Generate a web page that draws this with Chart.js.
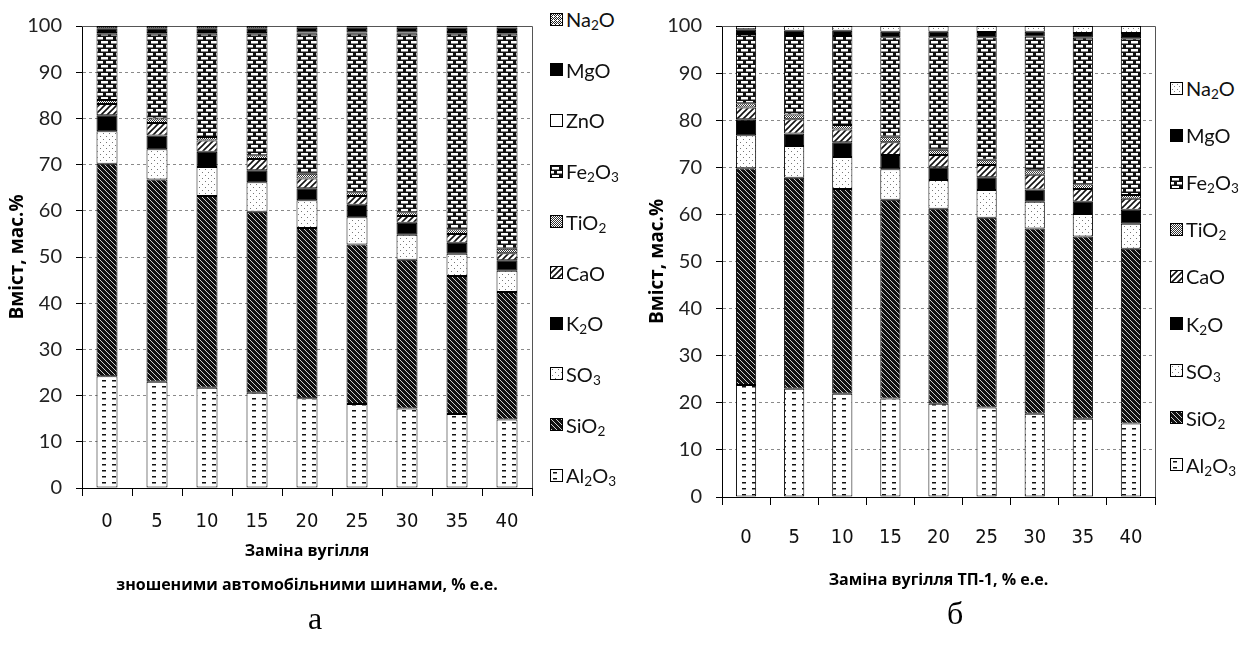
<!DOCTYPE html>
<html>
<head>
<meta charset="utf-8">
<script src="https://cdn.jsdelivr.net/npm/chart.js@4.4.1/dist/chart.umd.min.js"></script>
<style>
body { margin: 0; background: #fff; width: 1257px; height: 654px; overflow: hidden; position: relative; }
.panel { position: absolute; top: 0; }
.legend-item { position: absolute; height: 24px; display: flex; align-items: center; font-family: Lato, sans-serif; font-size: 20px; color: #111; white-space: nowrap; }
.legend-item canvas { margin-right: 3px; border: 1px solid #000; }
.legend-item sub { font-size: 0.68em; vertical-align: -0.2em; line-height: 0; }
.caption { position: absolute; font-family: 'Liberation Serif', serif; font-size: 32px; color: #000; }
</style>
</head>
<body>
<div class="panel" style="left:0"><canvas id="chartA" width="545" height="605"></canvas></div>
<div class="panel" style="left:640px"><canvas id="chartB" width="528" height="600"></canvas></div>
<div id="legendA"></div>
<div id="legendB"></div>
<div class="caption" style="left:308px;top:600px">а</div>
<div class="caption" style="left:947px;top:595px">б</div>
<script>
// шкала x: заміна вугілля, % е.е.
const categories = ['0', '5', '10', '15', '20', '25', '30', '35', '40'];

// а) зношені автомобільні шини, мас.%
const al2o3A = [24.2, 23.0, 21.7, 20.6, 19.4, 18.2, 17.2, 16.0, 14.8];
const sio2A  = [46.0, 43.8, 41.5, 39.2, 36.9, 34.5, 32.2, 29.9, 27.6];
const so3A   = [7.0, 6.5, 6.3, 6.4, 6.0, 5.9, 5.4, 4.8, 4.6];
const k2oA   = [3.5, 3.0, 3.3, 2.6, 2.6, 2.7, 2.6, 2.4, 2.3];
const caoA   = [2.4, 2.7, 2.4, 2.4, 2.1, 1.9, 1.5, 1.9, 1.5];
const tio2A  = [0.9, 1.0, 0.8, 0.8, 1.0, 0.8, 0.8, 1.0, 1.0];
const fe2o3A = [14.3, 18.3, 22.3, 26.3, 30.3, 34.3, 38.6, 42.3, 46.5];
const znoA   = [0.2, 0.2, 0.2, 0.2, 0.3, 0.3, 0.3, 0.4, 0.4];
const mgoA   = [1.0, 1.0, 1.0, 1.0, 1.0, 1.0, 1.0, 1.0, 1.0];
const na2oA  = [0.5, 0.5, 0.5, 0.5, 0.4, 0.4, 0.4, 0.3, 0.3];

// б) ТП-1, мас.%
const al2o3B = [23.8, 23.0, 21.9, 20.9, 19.8, 19.0, 17.7, 16.6, 15.6];
const sio2B  = [46.0, 44.8, 43.5, 42.2, 41.4, 40.3, 39.3, 38.7, 37.1];
const so3B   = [7.0, 6.7, 6.8, 6.5, 6.1, 5.9, 5.7, 4.8, 5.3];
const k2oB   = [3.4, 2.7, 3.1, 3.0, 2.7, 2.7, 2.6, 2.6, 3.0];
const caoB   = [2.5, 3.0, 2.7, 2.7, 2.6, 2.6, 3.1, 2.7, 2.3];
const tio2B  = [0.9, 1.0, 1.0, 1.2, 1.1, 1.1, 1.0, 1.0, 0.8];
const fe2o3B = [14.7, 16.7, 18.9, 21.1, 23.9, 26.0, 28.3, 31.1, 33.3];
const mgoB   = [1.0, 1.1, 1.1, 1.2, 1.2, 1.1, 1.1, 1.0, 1.1];
const na2oB  = [0.7, 1.0, 1.0, 1.2, 1.2, 1.3, 1.2, 1.5, 1.5];

const yTicks = [0, 10, 20, 30, 40, 50, 60, 70, 80, 90, 100];

// --- штрихування (як у чорно-білому Excel) ---
function tile(w, h, draw) {
    const c = document.createElement('canvas');
    c.width = w; c.height = h;
    const g = c.getContext('2d');
    g.fillStyle = '#fff';
    g.fillRect(0, 0, w, h);
    draw(g);
    return c.getContext('2d').createPattern(c, 'repeat');
}

const patterns = {
    al2o3: tile(10, 6, g => { g.fillStyle = '#111'; g.fillRect(2, 2, 4, 1.5); }),
    sio2: tile(5, 5, g => {
        g.fillStyle = '#111'; g.fillRect(0, 0, 5, 5);
        g.strokeStyle = '#fff'; g.lineWidth = 0.8;
        g.beginPath();
        g.moveTo(-1, -1); g.lineTo(6, 6);
        g.moveTo(-1, 4); g.lineTo(1, 6);
        g.moveTo(4, -1); g.lineTo(6, 1);
        g.stroke();
    }),
    so3: tile(6, 6, g => { g.fillStyle = '#777'; g.fillRect(1, 1, 1, 1); g.fillRect(4, 4, 1, 1); }),
    k2o: '#000',
    cao: tile(6, 6, g => {
        g.strokeStyle = '#111'; g.lineWidth = 1.6;
        g.beginPath();
        g.moveTo(-1, 7); g.lineTo(7, -1);
        g.moveTo(-1, 1); g.lineTo(1, -1);
        g.moveTo(5, 7); g.lineTo(7, 5);
        g.stroke();
    }),
    tio2: tile(2, 2, g => { g.fillStyle = '#333'; g.fillRect(0, 0, 1, 1); g.fillRect(1, 1, 1, 1); }),
    fe2o3: tile(10, 8, g => {
        g.fillStyle = '#111'; g.fillRect(0, 0, 10, 8);
        g.fillStyle = '#fff';
        g.fillRect(1, 1, 7, 2.5);
        g.fillRect(6, 5, 7, 2.5);
        g.fillRect(-4, 5, 7, 2.5);
    }),
    zno: '#fff',
    mgo: '#000',
    na2oA: tile(4, 4, g => {
        g.fillStyle = '#222';
        g.fillRect(0, 0, 1, 1); g.fillRect(2, 0, 1, 1); g.fillRect(1, 1, 1, 1); g.fillRect(3, 1, 1, 1);
        g.fillRect(0, 2, 1, 1); g.fillRect(1, 3, 1, 1); g.fillRect(3, 3, 1, 1);
    }),
    na2oB: tile(5, 5, g => { g.fillStyle = '#888'; g.fillRect(1, 1, 1, 1); g.fillRect(3, 3, 1, 1); })
};

const seriesA = [
    { label: 'Al2O3', data: al2o3A, fill: patterns.al2o3 },
    { label: 'SiO2', data: sio2A, fill: patterns.sio2 },
    { label: 'SO3', data: so3A, fill: patterns.so3 },
    { label: 'K2O', data: k2oA, fill: patterns.k2o },
    { label: 'CaO', data: caoA, fill: patterns.cao },
    { label: 'TiO2', data: tio2A, fill: patterns.tio2 },
    { label: 'Fe2O3', data: fe2o3A, fill: patterns.fe2o3 },
    { label: 'ZnO', data: znoA, fill: patterns.zno },
    { label: 'MgO', data: mgoA, fill: patterns.mgo },
    { label: 'Na2O', data: na2oA, fill: patterns.na2oA }
];

const seriesB = [
    { label: 'Al2O3', data: al2o3B, fill: patterns.al2o3 },
    { label: 'SiO2', data: sio2B, fill: patterns.sio2 },
    { label: 'SO3', data: so3B, fill: patterns.so3 },
    { label: 'K2O', data: k2oB, fill: patterns.k2o },
    { label: 'CaO', data: caoB, fill: patterns.cao },
    { label: 'TiO2', data: tio2B, fill: patterns.tio2 },
    { label: 'Fe2O3', data: fe2o3B, fill: patterns.fe2o3 },
    { label: 'MgO', data: mgoB, fill: patterns.mgo },
    { label: 'Na2O', data: na2oB, fill: patterns.na2oB }
];

// рамка області побудови (верх і праворуч)
const plotFrame = {
    id: 'plotFrame',
    beforeDatasetsDraw(chart) {
        const { ctx, chartArea: a } = chart;
        ctx.save();
        ctx.strokeStyle = '#555';
        ctx.lineWidth = 1;
        ctx.beginPath();
        ctx.moveTo(a.left, Math.round(a.top) + 0.5);
        ctx.lineTo(Math.round(a.right) + 0.5, Math.round(a.top) + 0.5);
        ctx.lineTo(Math.round(a.right) + 0.5, a.bottom);
        ctx.stroke();
        ctx.restore();
    }
};

function buildChart(id, series, cfg) {
    const ctx = document.getElementById(id).getContext('2d');
    return new Chart(ctx, {
        type: 'bar',
        data: {
            labels: categories,
            datasets: series.map(s => ({
                label: s.label,
                data: s.data,
                backgroundColor: s.fill,
                borderColor: '#000',
                borderWidth: 1,
                borderSkipped: false,
                barPercentage: 0.42,
                categoryPercentage: 1
            }))
        },
        options: {
            responsive: false,
            animation: false,
            layout: { padding: { top: cfg.top, right: 13, left: 0, bottom: 0 } },
            plugins: { legend: { display: false }, tooltip: { enabled: false } },
            scales: {
                x: {
                    stacked: true,
                    grid: { drawOnChartArea: false, drawTicks: true, tickLength: 8, tickColor: '#000', offset: true },
                    border: { display: true, color: '#000', width: 1 },
                    ticks: {
                        padding: cfg.xPad, color: '#111',
                        font: { family: "'Liberation Sans Narrow', 'DejaVu Sans Condensed', Lato, sans-serif", size: 20 }
                    },
                    title: {
                        display: true, text: cfg.xTitle, color: '#000',
                        font: { family: "'Open Sans', sans-serif", size: 16, weight: 'bold', lineHeight: cfg.xLine },
                        padding: { top: 0, bottom: cfg.xTitlePad }
                    },
                    afterFit: scale => { scale.height = cfg.xHeight; }
                },
                y: {
                    stacked: true,
                    min: 0, max: 100,
                    afterBuildTicks: scale => { scale.ticks = yTicks.map(v => ({ value: v })); },
                    grid: {
                        color: ctx => (ctx.tick && (ctx.tick.value === 0 || ctx.tick.value === 100)) ? 'rgba(0,0,0,0)' : '#8a8a8a',
                        tickColor: '#000', tickLength: 6, lineWidth: 1
                    },
                    border: { display: true, color: '#000', width: 1, dash: [3, 3] },
                    ticks: {
                        padding: 14, color: '#222',
                        font: { family: 'Lato, sans-serif', size: 20 }
                    },
                    title: {
                        display: true, text: 'Вміст, мас.%', color: '#000',
                        font: { family: "'Open Sans', sans-serif", size: 19, weight: 'bold', lineHeight: 1.2 },
                        padding: { top: 6, bottom: 0 }
                    },
                    afterFit: scale => { scale.width = 82; }
                }
            }
        },
        plugins: [plotFrame]
    });
}

buildChart('chartA', seriesA, {
    top: 15, xHeight: 117, xPad: 14, xLine: 2.15, xTitlePad: 2,
    xTitle: ['Заміна вугілля', 'зношеними автомобільними шинами, % е.е.']
});
buildChart('chartB', seriesB, {
    top: 23, xHeight: 103, xPad: 21, xLine: 1.2, xTitlePad: 10,
    xTitle: 'Заміна вугілля ТП-1, % е.е.'
});

// легенда: порядок зверху вниз — обернений до порядку накопичення
function subHtml(label) {
    return label.replace(/(\d)/g, '<sub>$1</sub>');
}
function buildLegend(holderId, series, left, firstY, step) {
    const holder = document.getElementById(holderId);
    series.slice().reverse().forEach((s, i) => {
        const item = document.createElement('div');
        item.className = 'legend-item';
        item.style.left = left + 'px';
        item.style.top = (firstY + i * step - 12) + 'px';
        const sw = document.createElement('canvas');
        sw.width = 11; sw.height = 11;
        const g = sw.getContext('2d');
        g.fillStyle = s.fill;
        g.fillRect(0, 0, 11, 11);
        item.appendChild(sw);
        const t = document.createElement('span');
        t.innerHTML = subHtml(s.label);
        item.appendChild(t);
        holder.appendChild(item);
    });
}
buildLegend('legendA', seriesA, 550, 19, 50.7);
buildLegend('legendB', seriesB, 1170, 88, 47.1);
</script>
</body>
</html>
